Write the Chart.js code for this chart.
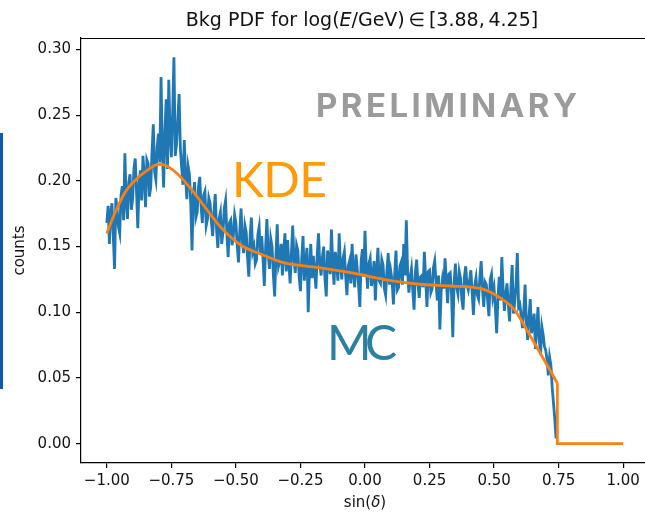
<!DOCTYPE html>
<html>
<head>
<meta charset="utf-8">
<script src="https://cdn.jsdelivr.net/npm/chart.js@4.4.1/dist/chart.umd.min.js"></script>
<style>
  html, body { margin: 0; padding: 0; background: #fff; overflow: hidden; }
  #wrap { position: relative; width: 649px; height: 513px; }
</style>
</head>
<body>
<div id="wrap"><canvas id="c" width="649" height="513"></canvas></div>
<script>
// Monte Carlo histogram of background events, bins of 0.005 in sin(delta) starting at -1.000
const mcStart = -1.0;
const mcStep = 0.005;
const mcCounts = [
  0.168, 0.181, 0.152, 0.176, 0.183, 0.158, 0.133, 0.187, 0.178, 0.165, 0.160, 0.189, 0.196, 0.170, 0.221, 0.184, 0.171, 0.199, 0.205, 0.178,
  0.186, 0.209, 0.217, 0.192, 0.164, 0.198, 0.208, 0.185, 0.219, 0.203, 0.180, 0.216, 0.213, 0.188, 0.195, 0.222, 0.243, 0.207, 0.201, 0.226,
  0.236, 0.214, 0.279, 0.224, 0.195, 0.238, 0.262, 0.209, 0.277, 0.235, 0.218, 0.252, 0.294, 0.219, 0.228, 0.247, 0.266, 0.224, 0.210, 0.197,
  0.231, 0.203, 0.186, 0.211, 0.205, 0.183, 0.147, 0.190, 0.199, 0.172, 0.176, 0.195, 0.203, 0.181, 0.168, 0.189, 0.192, 0.166, 0.171, 0.187,
  0.183, 0.169, 0.158, 0.177, 0.190, 0.163, 0.149, 0.171, 0.176, 0.152, 0.161, 0.179, 0.185, 0.160, 0.142, 0.168, 0.170, 0.151, 0.158, 0.174,
  0.168, 0.151, 0.138, 0.162, 0.179, 0.154, 0.145, 0.166, 0.161, 0.142, 0.127, 0.158, 0.172, 0.146, 0.150, 0.137, 0.140, 0.159, 0.165, 0.144,
  0.158, 0.141, 0.120, 0.149, 0.171, 0.145, 0.133, 0.156, 0.150, 0.129, 0.112, 0.143, 0.167, 0.135, 0.139, 0.152, 0.128, 0.147, 0.160, 0.131,
  0.155, 0.138, 0.122, 0.145, 0.166, 0.139, 0.130, 0.151, 0.147, 0.127, 0.116, 0.141, 0.158, 0.124, 0.136, 0.149, 0.100, 0.133, 0.152, 0.126,
  0.143, 0.131, 0.118, 0.144, 0.160, 0.136, 0.128, 0.142, 0.150, 0.125, 0.112, 0.147, 0.140, 0.129, 0.163, 0.138, 0.121, 0.146, 0.137, 0.124,
  0.160, 0.136, 0.125, 0.141, 0.146, 0.128, 0.113, 0.135, 0.139, 0.122, 0.152, 0.130, 0.119, 0.144, 0.133, 0.121, 0.104, 0.139, 0.148, 0.127,
  0.162, 0.134, 0.118, 0.137, 0.141, 0.120, 0.127, 0.139, 0.109, 0.131, 0.149, 0.124, 0.122, 0.140, 0.136, 0.118, 0.113, 0.132, 0.145, 0.121,
  0.131, 0.124, 0.106, 0.129, 0.147, 0.117, 0.119, 0.135, 0.138, 0.121, 0.152, 0.128, 0.170, 0.132, 0.115, 0.126, 0.133, 0.117, 0.102, 0.130,
  0.140, 0.122, 0.111, 0.127, 0.128, 0.119, 0.146, 0.125, 0.104, 0.131, 0.132, 0.115, 0.118, 0.134, 0.139, 0.123, 0.109, 0.128, 0.087, 0.116,
  0.125, 0.118, 0.141, 0.124, 0.107, 0.129, 0.130, 0.114, 0.081, 0.122, 0.137, 0.119, 0.114, 0.131, 0.126, 0.110, 0.102, 0.127, 0.135, 0.121,
  0.117, 0.124, 0.132, 0.115, 0.098, 0.120, 0.126, 0.113, 0.110, 0.127, 0.139, 0.118, 0.104, 0.123, 0.121, 0.109, 0.097, 0.125, 0.129, 0.112,
  0.118, 0.103, 0.084, 0.112, 0.127, 0.109, 0.142, 0.117, 0.101, 0.114, 0.122, 0.106, 0.093, 0.118, 0.136, 0.099, 0.108, 0.121, 0.145, 0.104,
  0.106, 0.097, 0.088, 0.101, 0.121, 0.093, 0.079, 0.096, 0.110, 0.084, 0.091, 0.099, 0.072, 0.087, 0.104, 0.079, 0.068, 0.089, 0.083, 0.074,
  0.071, 0.064, 0.052, 0.066, 0.060, 0.043, 0.031, 0.019, 0.004
];

// Kernel density estimate (smooth curve) and its cut-off tail
const kdeX = [-1.00, -0.97, -0.93, -0.89, -0.85, -0.80, -0.77, -0.73, -0.67, -0.62, -0.56, -0.48,
              -0.40, -0.32, -0.18, -0.05, 0.07, 0.20, 0.33, 0.45, 0.515, 0.578, 0.643, 0.709, 0.745];
const kdeY = [0.160, 0.175, 0.191, 0.2005, 0.207, 0.2125, 0.2115, 0.206, 0.193, 0.180, 0.165, 0.151,
              0.144, 0.138, 0.134, 0.130, 0.125, 0.1215, 0.120, 0.118, 0.112, 0.102, 0.081, 0.0585, 0.046];
const kdeTailX = [0.745, 0.745, 1.0];
const kdeTailY = [0.046, 0.0, 0.0];

// Axis ticks
const xTickValues = [-1.0, -0.75, -0.5, -0.25, 0.0, 0.25, 0.5, 0.75, 1.0];
const xTickLabels = ['\u22121.00', '\u22120.75', '\u22120.50', '\u22120.25', '0.00', '0.25', '0.50', '0.75', '1.00'];
const yTickValues = [0.0, 0.05, 0.10, 0.15, 0.20, 0.25, 0.30];
const yTickLabels = ['0.00', '0.05', '0.10', '0.15', '0.20', '0.25', '0.30'];

const mcPoints = mcCounts.map((v, i) => ({ x: mcStart + i * mcStep, y: v }));
const kdePoints = kdeX.map((x, i) => ({ x: x, y: kdeY[i] }));
const kdeTailPoints = kdeTailX.map((x, i) => ({ x: x, y: kdeTailY[i] }));

const BLUE = '#1f77b4';
const ORANGE = '#ff7f0e';
const TICK_FONT = { family: 'DejaVu Sans', size: 15 };

// Draws a run of text pieces, each with its own font, starting at x
function drawPieces(ctx, pieces, x, y) {
  let cx = x;
  for (const p of pieces) {
    ctx.font = p.font;
    ctx.fillText(p.text, cx, y);
    cx += ctx.measureText(p.text).width;
  }
}
function piecesWidth(ctx, pieces) {
  let w = 0;
  for (const p of pieces) { ctx.font = p.font; w += ctx.measureText(p.text).width; }
  return w;
}
// Draws text spread out to a given total width using letter spacing
function drawSpaced(ctx, text, x, y, width) {
  const chars = [...text];
  let natural = 0;
  const ws = chars.map(ch => { const w = ctx.measureText(ch).width; natural += w; return w; });
  const gap = chars.length > 1 ? (width - natural) / (chars.length - 1) : 0;
  let cx = x;
  chars.forEach((ch, i) => { ctx.fillText(ch, cx, y); cx += ws[i] + gap; });
}

const decorations = {
  id: 'decorations',
  afterDraw(chart) {
    const ctx = chart.ctx;
    const a = chart.chartArea;
    ctx.save();

    // top spine (left and bottom come from the axis borders)
    ctx.strokeStyle = '#000';
    ctx.lineWidth = 1.2;
    ctx.beginPath();
    ctx.moveTo(a.left, a.top + 0.5);
    ctx.lineTo(a.right, a.top + 0.5);
    ctx.stroke();

    const cx = (a.left + a.right) / 2;
    ctx.fillStyle = '#111';
    ctx.textBaseline = 'alphabetic';
    ctx.textAlign = 'left';

    // title
    const tf = '19px "DejaVu Sans"';
    const tfi = 'oblique 19px "DejaVu Sans"';
    const title = [
      { text: 'Bkg PDF for log(', font: tf },
      { text: 'E', font: tfi },
      { text: '/GeV)\u2009\u2208\u2009[3.88,\u20094.25]', font: tf }
    ];
    drawPieces(ctx, title, cx - 3 - piecesWidth(ctx, title) / 2, 26);

    // x axis label
    const lf = '15px "DejaVu Sans"';
    const lfi = 'oblique 15px "DejaVu Sans"';
    const xl = [
      { text: 'sin(', font: lf },
      { text: '\u03b4', font: lfi },
      { text: ')', font: lf }
    ];
    drawPieces(ctx, xl, cx - piecesWidth(ctx, xl) / 2, 507);

    // y axis label
    ctx.save();
    ctx.translate(24, (a.top + a.bottom) / 2);
    ctx.rotate(-Math.PI / 2);
    ctx.font = lf;
    ctx.textAlign = 'center';
    ctx.fillText('counts', 0, 0);
    ctx.restore();

    // overlay labels
    ctx.textAlign = 'left';
    ctx.fillStyle = '#9b9b9b';
    ctx.font = 'bold 33px Inter';
    drawSpaced(ctx, 'PRELIMINARY', 316, 117, 261);

    ctx.fillStyle = '#ff9a0a';
    ctx.font = '48px Lato';
    drawSpaced(ctx, 'KDE', 232, 197, 95);

    ctx.fillStyle = '#2b7fa2';
    ctx.font = '48px Lato';
    drawSpaced(ctx, 'MC', 327, 360, 70);

    // side marker bar
    ctx.fillStyle = '#0b5cad';
    ctx.fillRect(0, 133, 3, 256);

    ctx.restore();
  }
};

new Chart(document.getElementById('c'), {
  type: 'line',
  data: {
    datasets: [
      { label: 'KDE', data: kdePoints, borderColor: ORANGE, borderWidth: 2.8,
        pointRadius: 0, cubicInterpolationMode: 'monotone', order: 0 },
      { label: 'KDE tail', data: kdeTailPoints, borderColor: ORANGE, borderWidth: 2.8,
        pointRadius: 0, tension: 0, order: 0 },
      { label: 'MC', data: mcPoints, borderColor: BLUE, borderWidth: 2.8,
        pointRadius: 0, tension: 0, order: 1 }
    ]
  },
  options: {
    responsive: false,
    animation: false,
    events: [],
    layout: { padding: { top: 38, right: 0, left: 0, bottom: 0 } },
    plugins: { legend: { display: false }, tooltip: { enabled: false }, title: { display: false } },
    scales: {
      x: {
        type: 'linear',
        min: -1.1, max: 1.1,
        afterFit(s) { s.height = 50; },
        afterBuildTicks(s) { s.ticks = xTickValues.map(v => ({ value: v })); },
        ticks: {
          font: TICK_FONT, color: '#111', padding: 4, maxRotation: 0, autoSkip: false,
          callback: (v) => xTickLabels[xTickValues.findIndex(t => Math.abs(t - v) < 1e-9)]
        },
        grid: { display: true, drawOnChartArea: false, drawTicks: true, tickLength: 5, color: '#000', lineWidth: 1.2 },
        border: { display: true, color: '#000', width: 1.2 }
      },
      y: {
        type: 'linear',
        min: -0.0147, max: 0.3087,
        afterFit(s) { s.width = 81; },
        afterBuildTicks(s) { s.ticks = yTickValues.map(v => ({ value: v })); },
        ticks: {
          font: TICK_FONT, color: '#111', padding: 5, autoSkip: false,
          callback: (v) => yTickLabels[yTickValues.findIndex(t => Math.abs(t - v) < 1e-9)]
        },
        grid: { display: true, drawOnChartArea: false, drawTicks: true, tickLength: 5, color: '#000', lineWidth: 1.2 },
        border: { display: true, color: '#000', width: 1.2 }
      }
    }
  },
  plugins: [decorations]
});
</script>
</body>
</html>
